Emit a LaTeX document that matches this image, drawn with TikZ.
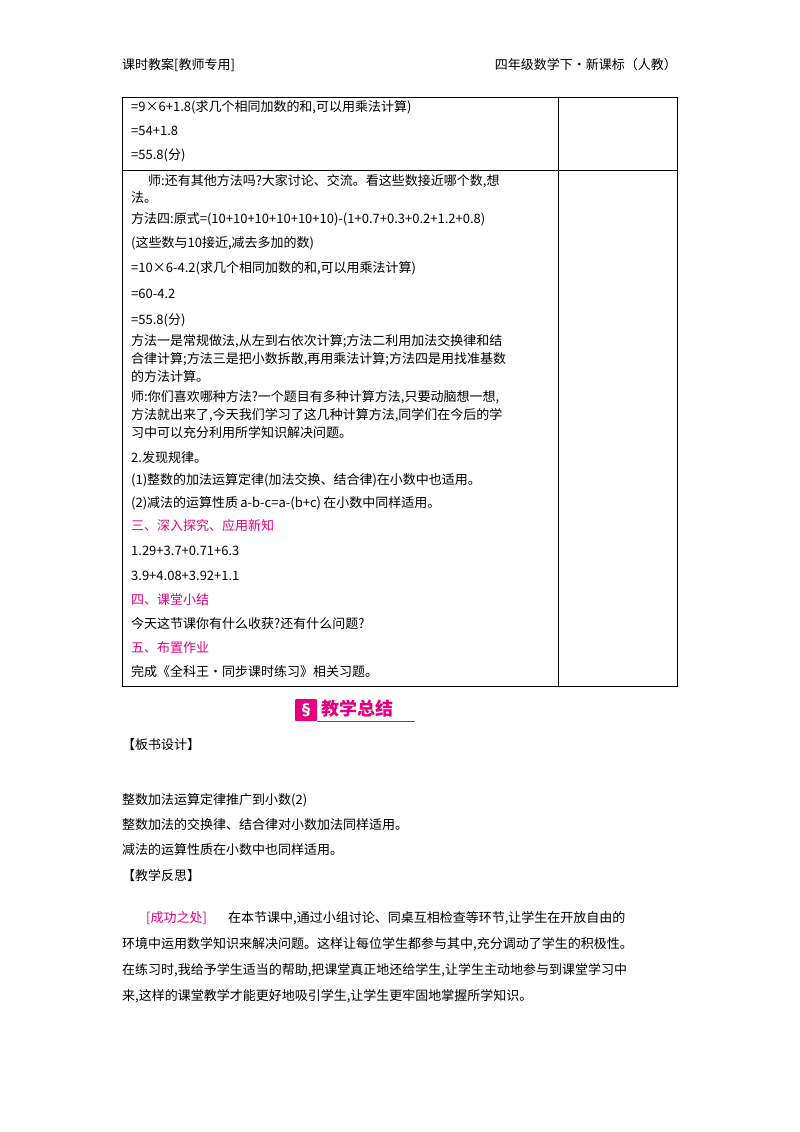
\documentclass[tikz,border=0pt]{standalone}
\usepackage{fontspec}
\setmainfont{Noto Sans CJK SC}
\definecolor{pk}{RGB}{228,0,127}
\begin{document}
\begin{tikzpicture}[x=1pt,y=-1pt,
  t/.style={anchor=west,inner sep=0pt,font=\fontsize{13}{15}\selectfont},
  p/.style={t,text=pk}]
\useasboundingbox (0,0) rectangle (800,1132);
\fill[white] (0,0) rectangle (800,1132);
\node[t] (h1) at (122,65) {课时教案[教师专用]};
\node[t,anchor=east] (h2) at (677,65) {四年级数学下·新课标（人教）};
\draw[line width=0.8pt] (122,97) rectangle (677,686);
\draw[line width=0.8pt] (558,97) -- (558,686);
\draw[line width=0.8pt] (122,170) -- (677,170);
\foreach \y/\s in {107/{=9×6+1.8(求几个相同加数的和,可以用乘法计算)},131/{=54+1.8},155/{=55.8(分)},
 198/{法。},
 219/{方法四:原式=(10+10+10+10+10+10)-(1+0.7+0.3+0.2+1.2+0.8)},243/{(这些数与10接近,减去多加的数)},
 268/{=10×6-4.2(求几个相同加数的和,可以用乘法计算)},294/{=60-4.2},320/{=55.8(分)},
 341/{方法一是常规做法,从左到右依次计算;方法二利用加法交换律和结},359/{合律计算;方法三是把小数拆散,再用乘法计算;方法四是用找准基数},377/{的方法计算。},
 397/{师:你们喜欢哪种方法?一个题目有多种计算方法,只要动脑想一想,},415/{方法就出来了,今天我们学习了这几种计算方法,同学们在今后的学},433/{习中可以充分利用所学知识解决问题。},
 458/{2.发现规律。},480/{(1)整数的加法运算定律(加法交换、结合律)在小数中也适用。},503/{(2)减法的运算性质\,\textit{a}-\textit{b}-\textit{c}=\textit{a}-(\textit{b}+\textit{c})\,在小数中同样适用。},
 551/{1.29+3.7+0.71+6.3},576/{3.9+4.08+3.92+1.1},624/{今天这节课你有什么收获?还有什么问题?},672/{完成《全科王·同步课时练习》相关习题。}}
 {\node[t] at (131,\y) {\s};}
\node[t] at (148,181) {师:还有其他方法吗?大家讨论、交流。看这些数接近哪个数,想};
\node[p] at (131,526) {三、深入探究、应用新知};
\node[p] at (131,600) {四、课堂小结};
\node[p] at (131,648) {五、布置作业};
% badge
\fill[pk,rounded corners=1pt] (295,699) rectangle (317,721);
\node[text=white,font=\bfseries\fontsize{15}{15}\selectfont,inner sep=0pt] (lg) at (306,710) {§};
\node[anchor=west,inner sep=0pt,text=pk,font=\bfseries\fontsize{18}{18}\selectfont] (bt) at (321,709) {教学总结};
\draw[pk,line width=0.8pt] (317,721) -- (415,721);
\node[t] at (122,745) {【板书设计】};
\node[t] at (122,800) {整数加法运算定律推广到小数(2)};
\node[t] at (122,825) {整数加法的交换律、结合律对小数加法同样适用。};
\node[t] at (122,850) {减法的运算性质在小数中也同样适用。};
\node[t] at (122,876) {【教学反思】};
\node[p] at (146,918) {[成功之处]};
\node[t] at (228,918) {在本节课中,通过小组讨论、同桌互相检查等环节,让学生在开放自由的};
\node[t] at (122,944) {环境中运用数学知识来解决问题。这样让每位学生都参与其中,充分调动了学生的积极性。};
\node[t] at (122,970) {在练习时,我给予学生适当的帮助,把课堂真正地还给学生,让学生主动地参与到课堂学习中};
\node[t] at (122,996) {来,这样的课堂教学才能更好地吸引学生,让学生更牢固地掌握所学知识。};
\end{tikzpicture}
\end{document}
